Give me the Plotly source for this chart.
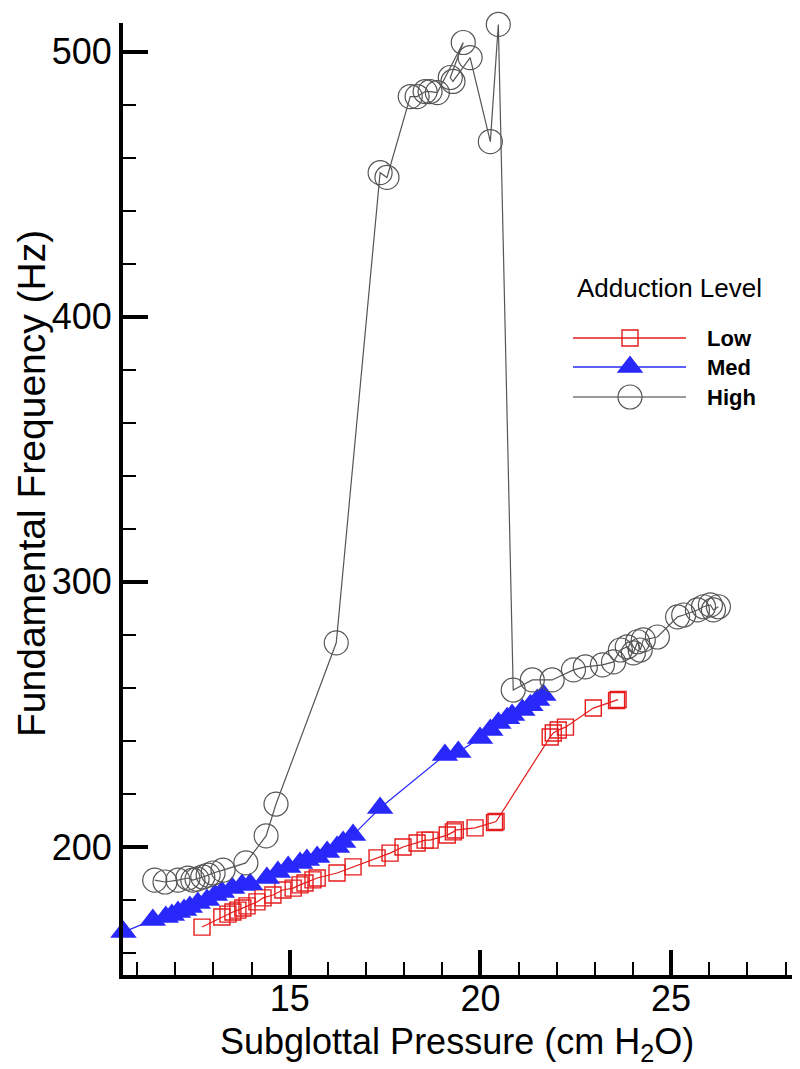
import plotly.graph_objects as go

# ---------------- data ----------------
low_p = [12.70, 13.22, 13.38, 13.51, 13.64, 13.77, 13.88, 14.14, 14.30, 14.56,
         14.82, 15.09, 15.27, 15.40, 15.61, 15.72, 16.24, 16.66, 17.29, 17.63,
         17.97, 18.34, 18.55, 18.68, 19.13, 19.29, 19.34, 19.86, 20.37, 20.41,
         21.83, 21.91, 22.04, 22.23, 22.96, 23.57, 23.61]
low_f = [169.8, 173.6, 174.7, 175.5, 176.2, 177.0, 177.8, 179.3, 180.8, 181.9,
         183.8, 184.5, 185.7, 186.4, 187.6, 188.3, 190.2, 192.5, 195.9, 197.7,
         200.0, 201.5, 202.6, 202.6, 204.5, 205.7, 206.4, 207.2, 209.2, 209.6,
         241.5, 243.0, 244.1, 245.2, 252.4, 255.2, 255.6]

med_p = [10.64, 11.41, 11.75, 11.91, 12.07, 12.23, 12.38, 12.59, 12.83, 13.04,
         13.22, 13.49, 13.75, 13.96, 14.40, 14.69, 14.96, 15.27, 15.45, 15.72,
         15.98, 16.24, 16.40, 16.66, 17.37, 19.07, 19.42, 19.99, 20.26, 20.47,
         20.70, 20.83, 21.10, 21.31, 21.49, 21.65]
med_f = [167.9, 172.5, 173.6, 174.4, 175.5, 176.2, 177.4, 178.9, 180.0, 181.9,
         183.0, 184.5, 185.7, 186.0, 188.3, 190.6, 192.5, 194.0, 195.1, 196.2,
         198.1, 200.0, 201.9, 204.5, 214.7, 234.7, 235.8, 241.1, 244.1, 246.8,
         248.6, 249.8, 251.7, 253.5, 255.4, 257.3]

high_p = [11.46, 11.73, 12.07, 12.33, 12.46, 12.57, 12.72, 12.86, 12.99, 13.25,
          13.85, 14.38, 14.64, 16.22, 17.37, 17.55, 18.16, 18.34, 18.55, 18.68,
          18.87, 19.55, 19.21, 19.28, 19.73, 20.26, 20.47, 20.86, 21.36, 21.88,
          22.44, 22.75, 23.20, 23.49, 23.67, 23.85, 24.01, 24.12, 24.19, 24.27,
          24.64, 25.17, 25.33, 25.69, 25.85, 26.03, 26.11, 26.24]
high_f = [187.5, 186.8, 187.5, 188.3, 187.5, 187.9, 188.7, 189.4, 190.2, 191.3,
          194.0, 204.2, 216.2, 277.0, 454.3, 452.5, 483.0, 483.0, 484.9, 484.9,
          484.5, 503.4, 490.2, 488.7, 497.7, 466.0, 510.2, 259.2, 263.0, 263.0,
          266.8, 267.9, 268.7, 269.8, 274.3, 275.5, 273.2, 277.4, 274.3, 278.1,
          279.2, 286.8, 287.5, 289.4, 290.6, 291.3, 289.4, 290.6]

x_ticks = [15, 20, 25]
y_ticks = [200, 300, 400, 500]
series_names = ["Low", "Med", "High"]
legend_title = "Adduction Level"
x_title = "Subglottal Pressure (cm H<sub>2</sub>O)"
y_title = "Fundamental Frequency (Hz)"

RED = "rgb(228,28,28)"
BLUE = "rgb(40,40,250)"
GRAY = "rgb(85,85,85)"
LGRAY = "rgb(120,120,120)"
FONT = "Arial, Liberation Sans, sans-serif"

SQ = dict(symbol="square-open", size=16, color=RED, line=dict(width=1.4, color=RED))
TR = dict(symbol="triangle-up", size=23, color=BLUE, line=dict(width=0))
CI = dict(symbol="circle-open", size=24, color=GRAY, line=dict(width=1.2, color=GRAY))

fig = go.Figure()
fig.add_trace(go.Scatter(x=low_p, y=low_f, mode="lines+markers", name="Low",
                         line=dict(color=RED, width=1.2), cliponaxis=False, marker=SQ))
fig.add_trace(go.Scatter(x=med_p, y=med_f, mode="lines+markers", name="Med",
                         line=dict(color=BLUE, width=1.2), cliponaxis=False, marker=TR))
fig.add_trace(go.Scatter(x=high_p, y=high_f, mode="lines+markers", name="High",
                         line=dict(color=GRAY, width=1.2), cliponaxis=False, marker=CI))

# ---------------- custom legend (overlay axis in pixel units of the plot area) ----------------
leg_y = [338, 367, 397]
for yy, st, lc in zip(leg_y, [SQ, TR, CI], [RED, BLUE, LGRAY]):
    fig.add_trace(go.Scatter(x=[573, 686], y=[yy, yy], mode="lines", xaxis="x2", yaxis="y2",
                             line=dict(color=lc, width=1.3), hoverinfo="skip"))
    fig.add_trace(go.Scatter(x=[630], y=[yy], mode="markers", xaxis="x2", yaxis="y2",
                             marker=st, hoverinfo="skip"))

annotations = [
    dict(x=575, y=288, xref="x2", yref="y2", text=legend_title, showarrow=False,
         xanchor="left", yanchor="middle", font=dict(family=FONT, size=26, color="black")),
]
for yy, nm in zip(leg_y, series_names):
    annotations.append(dict(x=705, y=yy, xref="x2", yref="y2", text="<b>" + nm + "</b>",
                            showarrow=False, xanchor="left", yanchor="middle",
                            font=dict(family=FONT, size=22, color="black")))
annotations.append(dict(x=0.4993, y=-0.072, xref="paper", yref="paper", text=x_title,
                        showarrow=False, xanchor="center", yanchor="middle",
                        font=dict(family=FONT, size=36, color="black")))
annotations.append(dict(x=-0.136, y=0.5158, xref="paper", yref="paper", textangle=-90,
                        text=y_title, showarrow=False, xanchor="center", yanchor="middle",
                        font=dict(family=FONT, size=39, color="black")))

axis_common = dict(
    showgrid=False, zeroline=False, showline=True, linewidth=4, linecolor="black",
    ticks="inside", ticklen=25, tickwidth=3.5, tickcolor="black",
    tickfont=dict(family=FONT, size=36, color="black"),
)

# page body has an 8px default margin: figure is 8px smaller and shifted
fig.update_layout(
    width=792, height=1061,
    margin=dict(l=115, r=8, t=15, b=94),
    paper_bgcolor="white", plot_bgcolor="white",
    showlegend=False,
    xaxis=dict(range=[10.628, 28.17], tickvals=x_ticks, ticklabelstandoff=-11,
               minor=dict(ticks="inside", dtick=1, tick0=0, ticklen=13, tickwidth=2,
                          tickcolor="black"),
               **axis_common),
    yaxis=dict(range=[151.73, 510.75], tickvals=y_ticks, ticklabelstandoff=0,
               minor=dict(ticks="inside", dtick=20, tick0=0, ticklen=13, tickwidth=2,
                          tickcolor="black"),
               **axis_common),
    xaxis2=dict(overlaying="x", range=[123, 792], visible=False, fixedrange=True),
    yaxis2=dict(overlaying="y", range=[975, 23], visible=False, fixedrange=True),
    annotations=annotations,
)

fig.write_html("out.html")
